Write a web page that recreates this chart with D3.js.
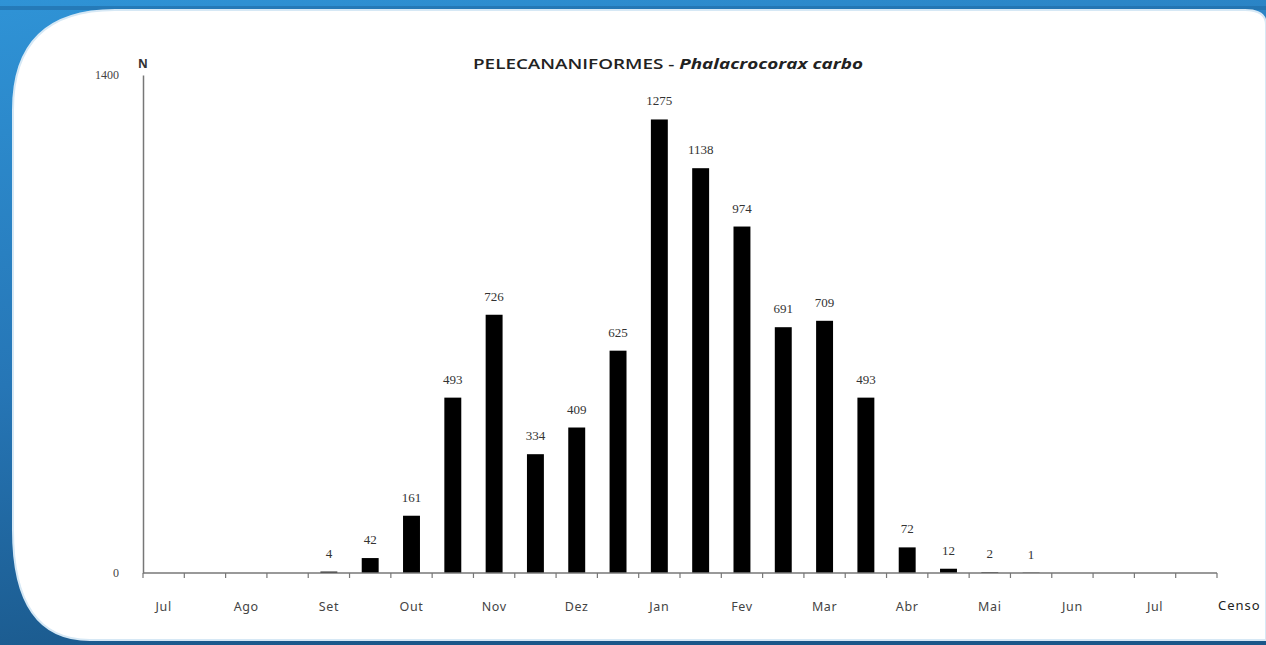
<!DOCTYPE html>
<html>
<head>
<meta charset="utf-8">
<script src="https://cdn.jsdelivr.net/npm/d3@7/dist/d3.min.js"></script>
<style>
  html, body { margin: 0; padding: 0; background: #2d8ccf; }
  svg { display: block; }
</style>
</head>
<body>
<div id="chart"></div>
<script>
// census slots (two per month), label on first census of each month
const censusLabels = ["Jul", "", "Ago", "", "Set", "", "Out", "", "Nov", "", "Dez", "",
    "Jan", "", "Fev", "", "Mar", "", "Abr", "", "Mai", "", "Jun", "", "Jul", ""];
const counts = [null, null, null, null, 4, 42, 161, 493, 726, 334, 409, 625,
    1275, 1138, 974, 691, 709, 493, 72, 12, 2, 1, null, null, null, null];
const yTicks = [0, 1400];

const width = 1266, height = 645;
const margin = {left: 143, right: 49, top: 75, bottom: 72};

const svg = d3.select("#chart").append("svg")
    .attr("width", width)
    .attr("height", height);

// background frame
const defs = svg.append("defs");
const bg = defs.append("linearGradient").attr("id", "bg")
    .attr("x1", 0).attr("y1", 0).attr("x2", 0.3).attr("y2", 1);
bg.append("stop").attr("offset", "0%").attr("stop-color", "#2f93d6");
bg.append("stop").attr("offset", "55%").attr("stop-color", "#2676b6");
bg.append("stop").attr("offset", "100%").attr("stop-color", "#1a5789");

svg.append("rect").attr("width", width).attr("height", height).attr("fill", "url(#bg)");
svg.append("rect").attr("x", 0).attr("y", 6).attr("width", width).attr("height", 4)
    .attr("fill", "#1f6aa5").attr("opacity", 0.6);
svg.append("path")
    .attr("d", "M115,10 L1245,10 Q1266,10 1266,25 L1266,640 L90,640 Q13,640 13,530 L13,110 Q13,10 115,10 Z")
    .attr("fill", "#ffffff")
    .attr("stroke", "#d6e8f5")
    .attr("stroke-width", 2);

const x = d3.scaleBand()
    .domain(d3.range(censusLabels.length))
    .range([margin.left, width - margin.right])
    .paddingInner(0.59)
    .paddingOuter(0.295);

const y = d3.scaleLinear()
    .domain([0, 1400])
    .range([height - margin.bottom, margin.top]);

const y0 = y(0);
const step = x.step();
const shown = counts.map((v, i) => ({i, v})).filter(d => d.v !== null);

// bars
svg.append("g")
    .selectAll("rect")
    .data(shown)
    .enter().append("rect")
    .attr("x", d => x(d.i))
    .attr("y", d => y(d.v))
    .attr("width", x.bandwidth())
    .attr("height", d => y0 - y(d.v))
    .attr("fill", "#000");

// value labels
svg.append("g")
    .attr("font-family", "'Liberation Serif', 'DejaVu Serif', serif")
    .attr("font-size", 13)
    .attr("fill", "#333")
    .attr("text-anchor", "middle")
    .selectAll("text")
    .data(shown)
    .enter().append("text")
    .attr("x", d => x(d.i) + x.bandwidth() / 2)
    .attr("y", d => y(d.v) - 14)
    .text(d => d.v);

// x axis
const xAxis = d3.axisBottom(x)
    .tickFormat("")
    .tickSize(0);
const xg = svg.append("g")
    .attr("transform", `translate(0,${y0})`)
    .call(xAxis);
xg.select(".domain").attr("stroke", "#777").attr("stroke-width", 1.5)
    .attr("d", `M${margin.left},0H${width - margin.right}`);

// boundary tick marks between census slots
xg.selectAll(".bound")
    .data(d3.range(censusLabels.length + 1))
    .enter().append("line")
    .attr("x1", i => margin.left + i * step)
    .attr("x2", i => margin.left + i * step)
    .attr("y1", 0)
    .attr("y2", 5)
    .attr("stroke", "#777")
    .attr("stroke-width", 1.2);

// month labels
svg.append("g")
    .attr("font-family", "'Noto Sans', 'Open Sans', sans-serif")
    .attr("font-size", 12.5)
    .attr("letter-spacing", 0.6)
    .attr("fill", "#444")
    .attr("text-anchor", "middle")
    .selectAll("text")
    .data(censusLabels.map((t, i) => ({t, i})).filter(d => d.t))
    .enter().append("text")
    .attr("x", d => x(d.i) + x.bandwidth() / 2)
    .attr("y", y0 + 38)
    .text(d => d.t);

svg.append("text")
    .attr("x", 1218)
    .attr("y", y0 + 37)
    .attr("font-family", "'Noto Sans', 'Open Sans', sans-serif")
    .attr("font-size", 13)
    .attr("letter-spacing", 1)
    .attr("fill", "#222")
    .text("Censo");

// y axis
const yAxis = d3.axisLeft(y).tickValues(yTicks).tickFormat(d3.format("d"))
    .tickSize(0).tickPadding(24);
const yg = svg.append("g")
    .attr("transform", `translate(${margin.left},0)`)
    .call(yAxis);
yg.select(".domain").attr("stroke", "#777").attr("stroke-width", 1.5);
yg.selectAll(".tick text")
    .attr("font-family", "'Liberation Serif', 'DejaVu Serif', serif")
    .attr("font-size", 12)
    .attr("fill", "#444");

svg.append("text")
    .attr("x", margin.left)
    .attr("y", margin.top - 7)
    .attr("text-anchor", "middle")
    .attr("font-family", "'Noto Sans', sans-serif")
    .attr("font-size", 12)
    .attr("font-weight", "bold")
    .attr("fill", "#333")
    .text("N");

// title
const title = svg.append("text")
    .attr("x", 473)
    .attr("y", 69)
    .attr("textLength", 390)
    .attr("lengthAdjust", "spacingAndGlyphs")
    .attr("font-family", "'Open Sans', 'Noto Sans', sans-serif")
    .attr("font-size", 15)
    .attr("fill", "#222");
title.append("tspan").attr("font-weight", 600).text("PELECANANIFORMES - ");
title.append("tspan").attr("font-weight", "bold").attr("font-style", "italic").text("Phalacrocorax carbo");
</script>
</body>
</html>
